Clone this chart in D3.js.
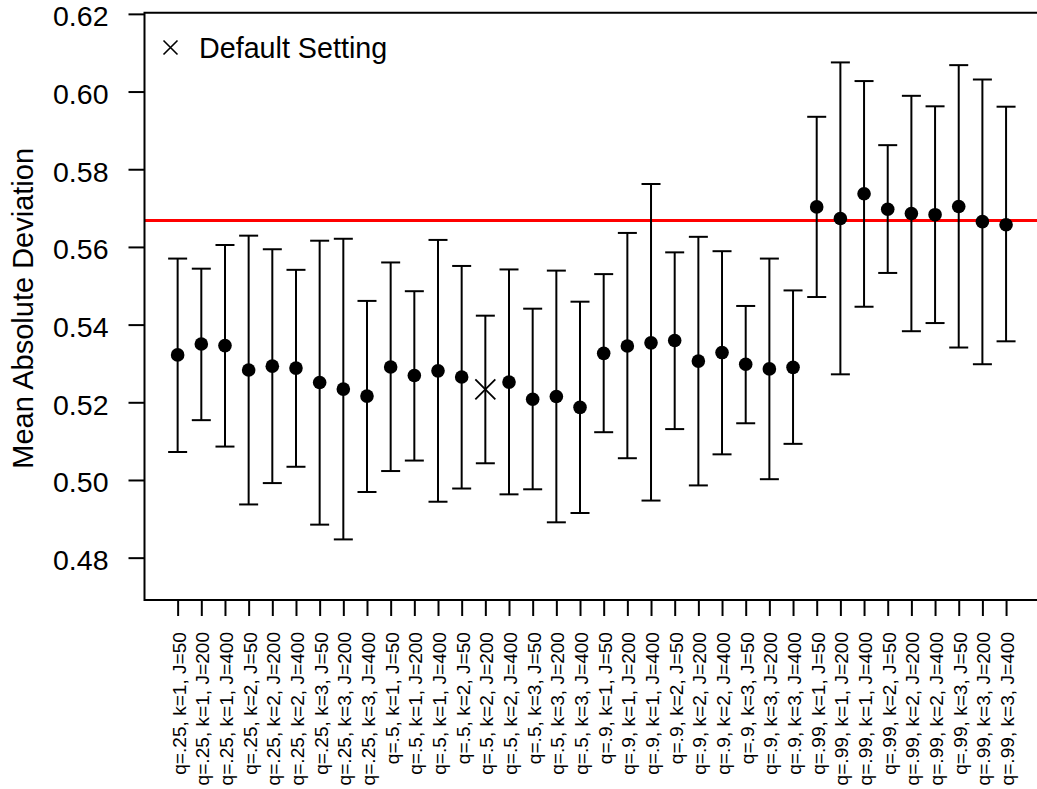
<!DOCTYPE html>
<html>
<head>
<meta charset="utf-8">
<script src="https://cdn.jsdelivr.net/npm/d3@7"></script>
<style>
  html, body { margin: 0; padding: 0; background: #fff; }
  svg { display: block; }
  text { font-family: "Liberation Sans", Arial, Helvetica, sans-serif; fill: #000; }
</style>
</head>
<body>
<script>
// ---- data ----
const categories = [
  "q=.25, k=1, J=50","q=.25, k=1, J=200","q=.25, k=1, J=400",
  "q=.25, k=2, J=50","q=.25, k=2, J=200","q=.25, k=2, J=400",
  "q=.25, k=3, J=50","q=.25, k=3, J=200","q=.25, k=3, J=400",
  "q=.5, k=1, J=50","q=.5, k=1, J=200","q=.5, k=1, J=400",
  "q=.5, k=2, J=50","q=.5, k=2, J=200","q=.5, k=2, J=400",
  "q=.5, k=3, J=50","q=.5, k=3, J=200","q=.5, k=3, J=400",
  "q=.9, k=1, J=50","q=.9, k=1, J=200","q=.9, k=1, J=400",
  "q=.9, k=2, J=50","q=.9, k=2, J=200","q=.9, k=2, J=400",
  "q=.9, k=3, J=50","q=.9, k=3, J=200","q=.9, k=3, J=400",
  "q=.99, k=1, J=50","q=.99, k=1, J=200","q=.99, k=1, J=400",
  "q=.99, k=2, J=50","q=.99, k=2, J=200","q=.99, k=2, J=400",
  "q=.99, k=3, J=50","q=.99, k=3, J=200","q=.99, k=3, J=400"
];
const meanValues = [
  0.5322, 0.5350, 0.5346, 0.5283, 0.5293, 0.5288, 0.5251, 0.5234, 0.5216,
  0.5291, 0.5269, 0.5281, 0.5265, 0.5233, 0.5252, 0.5208, 0.5215, 0.5187,
  0.5326, 0.5345, 0.5353, 0.5359, 0.5306, 0.5328, 0.5298, 0.5286, 0.5290,
  0.5703, 0.5673, 0.5737, 0.5697, 0.5686, 0.5683, 0.5704, 0.5665, 0.5657
];
const lowerValues = [
  0.5072, 0.5154, 0.5086, 0.4937, 0.4992, 0.5034, 0.4885, 0.4847, 0.4969,
  0.5023, 0.5050, 0.4944, 0.4978, 0.5043, 0.4963, 0.4976, 0.4891, 0.4915,
  0.5123, 0.5056, 0.4947, 0.5131, 0.4986, 0.5066, 0.5146, 0.5002, 0.5093,
  0.5471, 0.5272, 0.5446, 0.5533, 0.5383, 0.5404, 0.5341, 0.5298, 0.5357
];
const upperValues = [
  0.5570, 0.5544, 0.5605, 0.5629, 0.5594, 0.5541, 0.5616, 0.5621, 0.5461,
  0.5560, 0.5486, 0.5618, 0.5551, 0.5423, 0.5542, 0.5441, 0.5539, 0.5459,
  0.5530, 0.5636, 0.5762, 0.5586, 0.5626, 0.5589, 0.5448, 0.5570, 0.5488,
  0.5935, 0.6075, 0.6027, 0.5862, 0.5989, 0.5962, 0.6068, 0.6031, 0.5961
];
const defaultCategory = "q=.5, k=2, J=200";
const referenceValue = 0.5668;
const yTickValues = [0.48, 0.50, 0.52, 0.54, 0.56, 0.58, 0.60, 0.62];
const yAxisTitle = "Mean Absolute Deviation";
const legendLabel = "Default Setting";

// ---- layout ----
const W = 1037, H = 789;
const plotLeft = 144.5, plotRight = 1039.2, plotTop = 12.7, plotBottom = 600;

const svg = d3.select("body").append("svg").attr("width", W).attr("height", H);

const x = d3.scaleLinear().domain([-0.4, 37.4]).range([plotLeft, plotRight]);
const y = d3.scaleLinear().domain([0.4691, 0.6203]).range([plotBottom, plotTop]);

const rows = categories.map((c, i) => ({
  cat: c, pos: i + 1, mean: meanValues[i], lo: lowerValues[i], hi: upperValues[i]
}));

// reference line
svg.append("line")
  .attr("x1", plotLeft).attr("x2", W)
  .attr("y1", y(referenceValue)).attr("y2", y(referenceValue))
  .attr("stroke", "#ff0000").attr("stroke-width", 3.2);

// error bars
const capHalf = 9.5;
const g = svg.append("g").attr("stroke", "#000").attr("stroke-width", 2).attr("fill", "none");
rows.forEach(d => {
  const cx = x(d.pos);
  g.append("line").attr("x1", cx).attr("x2", cx).attr("y1", y(d.lo)).attr("y2", y(d.hi));
  g.append("line").attr("x1", cx - capHalf).attr("x2", cx + capHalf).attr("y1", y(d.lo)).attr("y2", y(d.lo));
  g.append("line").attr("x1", cx - capHalf).attr("x2", cx + capHalf).attr("y1", y(d.hi)).attr("y2", y(d.hi));
});

// points
rows.forEach(d => {
  const cx = x(d.pos), cy = y(d.mean);
  if (d.cat === defaultCategory) {
    const s = 10;
    svg.append("path")
      .attr("d", `M${cx - s},${cy - s}L${cx + s},${cy + s}M${cx - s},${cy + s}L${cx + s},${cy - s}`)
      .attr("stroke", "#000").attr("stroke-width", 1.8).attr("fill", "none");
  } else {
    svg.append("circle").attr("cx", cx).attr("cy", cy).attr("r", 6.8).attr("fill", "#000");
  }
});

// box (left, top, bottom; right edge falls outside the page)
svg.append("path")
  .attr("d", `M${plotRight},${plotTop}H${plotLeft}V${plotBottom}H${plotRight}`)
  .attr("stroke", "#000").attr("stroke-width", 2).attr("fill", "none");

// y axis
const yAxis = d3.axisLeft(y).tickValues(yTickValues).tickFormat(d3.format(".2f")).tickSize(16).tickPadding(20);
const yg = svg.append("g").attr("transform", `translate(${plotLeft},0)`).call(yAxis);
yg.select(".domain").remove();
yg.selectAll(".tick line").attr("stroke", "#000").attr("stroke-width", 2);
yg.selectAll(".tick text")
  .attr("font-size", 28.5).attr("font-family", "Liberation Sans, Arial, sans-serif")
  .attr("dy", "0.42em").attr("fill", "#000");

// x axis
const xAxis = d3.axisBottom(x).tickValues(rows.map(d => d.pos))
  .tickFormat(p => categories[p - 1]).tickSize(16).tickPadding(0);
const xg = svg.append("g").attr("transform", `translate(0,${plotBottom})`).call(xAxis);
xg.select(".domain").remove();
xg.selectAll(".tick line").attr("stroke", "#000").attr("stroke-width", 2);
xg.selectAll(".tick text")
  .attr("font-size", 19.1).attr("font-family", "Liberation Sans, Arial, sans-serif")
  .attr("fill", "#000")
  .attr("text-anchor", "end")
  .attr("dy", null)
  .attr("y", 0)
  .attr("dominant-baseline", "central")
  .attr("transform", "translate(1,32) rotate(-90)");

// y axis title
svg.append("text")
  .attr("transform", `translate(33,${(plotTop + plotBottom) / 2 + 2}) rotate(-90)`)
  .attr("text-anchor", "middle")
  .attr("font-size", 29)
  .text(yAxisTitle);

// legend
const lx = 170.5, ly = 47.5;
svg.append("path")
  .attr("d", `M${lx - 7},${ly - 7}L${lx + 7},${ly + 7}M${lx - 7},${ly + 7}L${lx + 7},${ly - 7}`)
  .attr("stroke", "#000").attr("stroke-width", 1.6).attr("fill", "none");
svg.append("text")
  .attr("x", 199).attr("y", ly + 10.5)
  .attr("font-size", 28.7)
  .text(legendLabel);
</script>
</body>
</html>
